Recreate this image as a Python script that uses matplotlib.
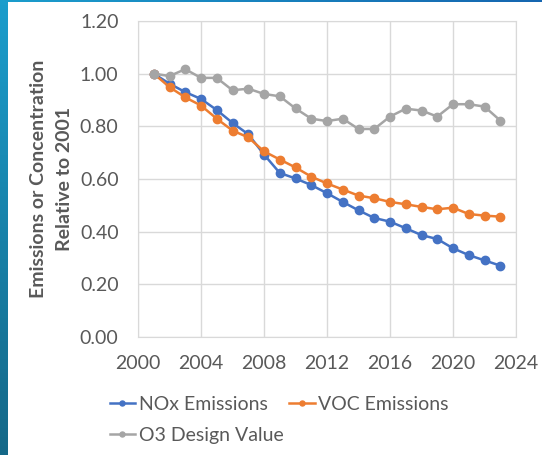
import numpy as np
import matplotlib.pyplot as plt
from matplotlib.colors import LinearSegmentedColormap

plt.rcParams['font.family'] = ['Lato', 'DejaVu Sans']

years = list(range(2001, 2024))
nox = [1.000, 0.962, 0.930, 0.904, 0.862, 0.813, 0.770, 0.693, 0.623, 0.602,
       0.577, 0.546, 0.513, 0.481, 0.452, 0.438, 0.413, 0.387, 0.372, 0.337,
       0.311, 0.291, 0.271]
voc = [1.000, 0.949, 0.910, 0.879, 0.829, 0.784, 0.758, 0.705, 0.674, 0.644,
       0.609, 0.583, 0.560, 0.537, 0.527, 0.513, 0.504, 0.494, 0.485, 0.491,
       0.467, 0.461, 0.457]
o3 = [1.000, 0.991, 1.017, 0.984, 0.984, 0.937, 0.943, 0.923, 0.914, 0.868,
      0.829, 0.820, 0.829, 0.790, 0.790, 0.837, 0.867, 0.860, 0.837, 0.884,
      0.884, 0.875, 0.822]

xticks = [2000, 2004, 2008, 2012, 2016, 2020, 2024]
yticks = [0.0, 0.2, 0.4, 0.6, 0.8, 1.0, 1.2]

txt = '#595959'
fig = plt.figure(figsize=(5.42, 4.55), dpi=100)

# decorative slide strips
strip_l = fig.add_axes([0, 0, 8 / 542, 1])
cm_l = LinearSegmentedColormap.from_list('l', ['#1b9dcc', '#156888'])
strip_l.imshow(np.linspace(0, 1, 100).reshape(-1, 1), aspect='auto', cmap=cm_l)
strip_l.axis('off')
strip_t = fig.add_axes([0, 1 - 2 / 455, 1, 2 / 455])
cm_t = LinearSegmentedColormap.from_list('t', ['#1b9dcc', '#1566b0'])
strip_t.imshow(np.linspace(0, 1, 100).reshape(1, -1), aspect='auto', cmap=cm_t)
strip_t.axis('off')

ax = fig.add_axes([138 / 542, 1 - 337 / 455, (516 - 138) / 542, (337 - 21) / 455])
l1, = ax.plot(years, nox, color='#4472C4', marker='o', ms=6, lw=1.8, label='NOx Emissions')
l2, = ax.plot(years, voc, color='#ED7D31', marker='o', ms=6, lw=1.8, label='VOC Emissions')
l3, = ax.plot(years, o3, color='#A5A5A5', marker='o', ms=6, lw=1.8, label='O3 Design Value')

ax.set_xlim(2000, 2024)
ax.set_ylim(0, 1.2)
ax.set_xticks(xticks)
ax.set_yticks(yticks)
ax.set_yticklabels([f'{v:.2f}' for v in yticks])
ax.grid(True, color='#d9d9d9', lw=1)
ax.set_axisbelow(True)
for s in ax.spines.values():
    s.set_color('#d9d9d9')
ax.tick_params(length=0, labelsize=14, colors=txt)
ax.tick_params(axis='x', pad=13)
ax.tick_params(axis='y', pad=14)
ax.set_ylabel('Emissions or Concentration\nRelative to 2001', fontsize=14,
              fontweight='bold', color=txt, labelpad=5, linespacing=1.6)

leg = fig.legend([l1, l3, l2], ['NOx Emissions', 'O3 Design Value', 'VOC Emissions'],
                 loc='upper left', bbox_to_anchor=(92 / 542, 1 - 378 / 455), ncol=2,
                 frameon=False, fontsize=14, handlelength=1.3, handletextpad=0.2,
                 columnspacing=0.3, labelspacing=0.75, markerscale=0.6)
for t in leg.get_texts():
    t.set_color(txt)

fig.savefig('out.png', dpi=100)
